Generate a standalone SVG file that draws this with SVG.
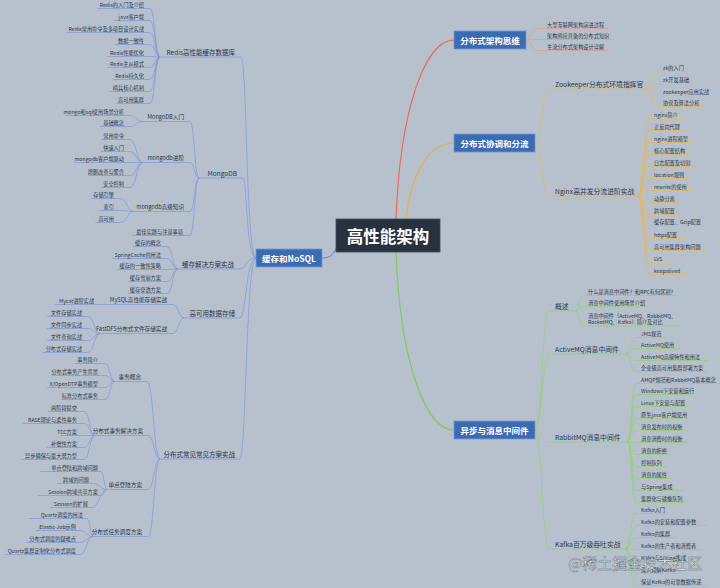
<svg xmlns="http://www.w3.org/2000/svg" width="720" height="588" viewBox="0 0 720 588">
<style>
text{font-family:"Noto Sans CJK SC","Noto Sans",sans-serif;dominant-baseline:central;fill:#2a3646}
.s{font-size:5.2px}
.t{font-size:5.6px}
.m{font-size:6.5px}
.r{font-size:6.8px}
.e{text-anchor:end}
.bt{font-size:8.5px;font-weight:bold;fill:#fff;text-anchor:middle}
.ct{font-size:16.5px;font-weight:bold;fill:#fff;text-anchor:middle}
.ub,.cb{stroke:#7f96dc;stroke-width:.7;fill:none}
.ur,.cr{stroke:#e59a98;stroke-width:.7;fill:none}
.uo,.co{stroke:#e6b757;stroke-width:.7;fill:none}
.ug,.cg{stroke:#96d070;stroke-width:.7;fill:none}
.box{fill:#3b6bb2;stroke:#7598d4;stroke-width:.8}
.wm{font-size:15px;fill:#fff;fill-opacity:.85;stroke:#4d5562;stroke-width:.5;stroke-opacity:.8}
</style>
<rect width="720" height="588" fill="#b6c1cd"/>

<g id="connectors">
<path d="M396,219C400,110 425,40 454,40" stroke="#ec6a55" stroke-width="1.2" fill="none"/>
<path d="M406,219C412,170 430,143 454,143" stroke="#e6b04a" stroke-width="1.2" fill="none"/>
<path d="M396,252C400,360 425,430 454,430" stroke="#86c85c" stroke-width="1.2" fill="none"/>
<path d="M337,247C333,255 330,258 322,258" stroke="#5f80d2" stroke-width="1" fill="none"/>
<g class="cb">
<path d="M256,258C246,258 247,57 241,57"/>
<path d="M256,258C246,258 247,178 243,178"/>
<path d="M256,258C246,258 246,269 240,269"/>
<path d="M256,258C246,258 246,318 240,318"/>
<path d="M256,258C246,258 246,459 240,459"/>
<path d="M150,8.5C155,8.5 155,57 160,57"/>
<path d="M150,20.5C155,20.5 155,57 160,57"/>
<path d="M150,32.5C155,32.5 155,57 160,57"/>
<path d="M150,44.5C155,44.5 155,57 160,57"/>
<path d="M150,56.5C155,56.5 155,57 160,57"/>
<path d="M150,67.5C155,67.5 155,57 160,57"/>
<path d="M150,79.5C155,79.5 155,57 160,57"/>
<path d="M150,91.5C155,91.5 155,57 160,57"/>
<path d="M150,103.5C155,103.5 155,57 160,57"/>
<path d="M190,121.5C194.5,121.5 194.5,178 199,178"/>
<path d="M190,162.5C194.5,162.5 194.5,178 199,178"/>
<path d="M190,211.5C194.5,211.5 194.5,178 199,178"/>
<path d="M190,235.5C194.5,235.5 194.5,178 199,178"/>
<path d="M130,115.5C136.5,115.5 136.5,121.5 143,121.5"/>
<path d="M130,126.5C136.5,126.5 136.5,121.5 143,121.5"/>
<path d="M130,139.5C136.5,139.5 136.5,162.5 143,162.5"/>
<path d="M130,151.5C136.5,151.5 136.5,162.5 143,162.5"/>
<path d="M130,162.5C136.5,162.5 136.5,162.5 143,162.5"/>
<path d="M130,175.5C136.5,175.5 136.5,162.5 143,162.5"/>
<path d="M130,187.5C136.5,187.5 136.5,162.5 143,162.5"/>
<path d="M120,198.5C127,198.5 127,211.5 134,211.5"/>
<path d="M120,210.5C127,210.5 127,211.5 134,211.5"/>
<path d="M120,222.5C127,222.5 127,211.5 134,211.5"/>
<path d="M167,246.5C172.5,246.5 172.5,269 178,269"/>
<path d="M167,258.5C172.5,258.5 172.5,269 178,269"/>
<path d="M167,269.5C172.5,269.5 172.5,269 178,269"/>
<path d="M167,281.5C172.5,281.5 172.5,269 178,269"/>
<path d="M167,293.5C172.5,293.5 172.5,269 178,269"/>
<path d="M173,304.5C178.5,304.5 178.5,318 184,318"/>
<path d="M173,333.5C178.5,333.5 178.5,318 184,318"/>
<path d="M88,316.5C94,316.5 94,333.5 100,333.5"/>
<path d="M88,328.5C94,328.5 94,333.5 100,333.5"/>
<path d="M88,340.5C94,340.5 94,333.5 100,333.5"/>
<path d="M88,352.5C94,352.5 94,333.5 100,333.5"/>
<path d="M147,381.5C153.5,381.5 153.5,459 160,459"/>
<path d="M148,435.5C154,435.5 154,459 160,459"/>
<path d="M148,489.5C154,489.5 154,459 160,459"/>
<path d="M148,536.5C154,536.5 154,459 160,459"/>
<path d="M105,363.5C110,363.5 110,381.5 115,381.5"/>
<path d="M105,375.5C110,375.5 110,381.5 115,381.5"/>
<path d="M105,387.5C110,387.5 110,381.5 115,381.5"/>
<path d="M105,399.5C110,399.5 110,381.5 115,381.5"/>
<path d="M84,411.5C89.5,411.5 89.5,435.5 95,435.5"/>
<path d="M84,423.5C89.5,423.5 89.5,435.5 95,435.5"/>
<path d="M84,435.5C89.5,435.5 89.5,435.5 95,435.5"/>
<path d="M84,447.5C89.5,447.5 89.5,435.5 95,435.5"/>
<path d="M84,459.5C89.5,459.5 89.5,435.5 95,435.5"/>
<path d="M101,471.5C104,471.5 104,489.5 107,489.5"/>
<path d="M93,483.5C100,483.5 100,489.5 107,489.5"/>
<path d="M101,495.5C104,495.5 104,489.5 107,489.5"/>
<path d="M92,507.5C99.5,507.5 99.5,489.5 107,489.5"/>
<path d="M87,518.5C90,518.5 90,536.5 93,536.5"/>
<path d="M80,530.5C86.5,530.5 86.5,536.5 93,536.5"/>
<path d="M80,542.5C86.5,542.5 86.5,536.5 93,536.5"/>
<path d="M80,554.5C86.5,554.5 86.5,536.5 93,536.5"/>
</g>
<g class="cr">
<path d="M526,40C531.5,40 531.5,28.5 537,28.5"/>
<path d="M526,40C531.5,40 531.5,39.5 537,39.5"/>
<path d="M526,40C531.5,40 531.5,50.5 537,50.5"/>
</g>
<g class="co">
<path d="M535,143C542,143 542,89 549,89"/>
<path d="M535,143C542,143 542,196 549,196"/>
<path d="M644,89C651,89 651,71.5 658,71.5"/>
<path d="M644,89C651,89 651,83.5 658,83.5"/>
<path d="M644,89C651,89 651,95.5 658,95.5"/>
<path d="M644,89C651,89 651,106.5 658,106.5"/>
<path d="M638,196C643.5,196 643.5,118.5 649,118.5"/>
<path d="M638,196C643.5,196 643.5,130.5 649,130.5"/>
<path d="M638,196C643.5,196 643.5,142.5 649,142.5"/>
<path d="M638,196C643.5,196 643.5,154.5 649,154.5"/>
<path d="M638,196C643.5,196 643.5,166.5 649,166.5"/>
<path d="M638,196C643.5,196 643.5,178.5 649,178.5"/>
<path d="M638,196C643.5,196 643.5,190.5 649,190.5"/>
<path d="M638,196C643.5,196 643.5,202.5 649,202.5"/>
<path d="M638,196C643.5,196 643.5,214.5 649,214.5"/>
<path d="M638,196C643.5,196 643.5,225.5 649,225.5"/>
<path d="M638,196C643.5,196 643.5,238.5 649,238.5"/>
<path d="M638,196C643.5,196 643.5,250.5 649,250.5"/>
<path d="M638,196C643.5,196 643.5,262.5 649,262.5"/>
<path d="M638,196C643.5,196 643.5,274.5 649,274.5"/>
</g>
<g class="cg">
<path d="M535,430C542,430 542,311 549,311"/>
<path d="M535,430C542,430 542,354 549,354"/>
<path d="M535,430C542,430 542,442 549,442"/>
<path d="M535,430C542,430 542,549 549,549"/>
<path d="M576,311C579.5,311 579.5,295.5 583,295.5"/>
<path d="M576,311C579.5,311 579.5,306.5 583,306.5"/>
<path d="M576,311C579.5,311 579.5,326 583,326"/>
<path d="M625,354C630.5,354 630.5,337.5 636,337.5"/>
<path d="M625,354C630.5,354 630.5,348.5 636,348.5"/>
<path d="M625,354C630.5,354 630.5,360.5 636,360.5"/>
<path d="M625,354C630.5,354 630.5,371.5 636,371.5"/>
<path d="M627,442C631.5,442 631.5,383.5 636,383.5"/>
<path d="M627,442C631.5,442 631.5,394.5 636,394.5"/>
<path d="M627,442C631.5,442 631.5,406.5 636,406.5"/>
<path d="M627,442C631.5,442 631.5,418.5 636,418.5"/>
<path d="M627,442C631.5,442 631.5,430.5 636,430.5"/>
<path d="M627,442C631.5,442 631.5,442.5 636,442.5"/>
<path d="M627,442C631.5,442 631.5,454.5 636,454.5"/>
<path d="M627,442C631.5,442 631.5,466.5 636,466.5"/>
<path d="M627,442C631.5,442 631.5,478.5 636,478.5"/>
<path d="M627,442C631.5,442 631.5,490.5 636,490.5"/>
<path d="M627,442C631.5,442 631.5,502.5 636,502.5"/>
<path d="M625,549C630.5,549 630.5,513.5 636,513.5"/>
<path d="M625,549C630.5,549 630.5,525.5 636,525.5"/>
<path d="M625,549C630.5,549 630.5,537.5 636,537.5"/>
<path d="M625,549C630.5,549 630.5,549.5 636,549.5"/>
<path d="M625,549C630.5,549 630.5,561.5 636,561.5"/>
<path d="M625,549C630.5,549 630.5,573.5 636,573.5"/>
<path d="M625,549C630.5,549 630.5,585.5 636,585.5"/>
</g>
</g>

<g id="root"><rect x="336" y="219" width="104" height="33" fill="#28323e" stroke="#3c4858" stroke-width=".8"/><text class="ct" x="388" y="235.5">高性能架构</text></g>

<!-- LEFT -->
<g id="cache-nosql"><rect class="box" x="256" y="249" width="66" height="18"/><text class="bt" x="289" y="258">缓存和NoSQL</text></g>

<g id="redis"><path class="ub" d="M160,57H241"/><text class="m e" x="235" y="52">Redis高性能缓存数据库</text></g>
<g id="r1"><path class="ub" d="M97,8.5H150"/><text class="s e" x="144" y="4">Redis的入门及介绍</text></g>
<g id="r2"><path class="ub" d="M114,20.5H150"/><text class="s e" x="144" y="16">java客户端</text></g>
<g id="r3"><path class="ub" d="M67,32.5H150"/><text class="s e" x="144" y="28">Redis常用命令及多项目设计实战</text></g>
<g id="r4"><path class="ub" d="M115,44.5H150"/><text class="s e" x="144" y="40">数据一致性</text></g>
<g id="r5"><path class="ub" d="M107,56.5H150"/><text class="s e" x="144" y="52">Redis性能优化</text></g>
<g id="r6"><path class="ub" d="M107,67.5H150"/><text class="s e" x="144" y="63">Redis主从模式</text></g>
<g id="r7"><path class="ub" d="M113,79.5H150"/><text class="s e" x="144" y="75">Redis持久化</text></g>
<g id="r8"><path class="ub" d="M110,91.5H150"/><text class="s e" x="144" y="87">哨兵核心机制</text></g>
<g id="r9"><path class="ub" d="M116,103.5H150"/><text class="s e" x="144" y="99">高可用集群</text></g>

<g id="mongodb"><path class="ub" d="M199,178H243"/><text class="m e" x="237" y="173">MongoDB</text></g>
<g id="mg1"><path class="ub" d="M143,121.5H190"/><text class="t e" x="184" y="117">MongoDB入门</text></g>
<g id="mg1a"><path class="ub" d="M65,115.5H130"/><text class="s e" x="124" y="111">mongo和sql使用场景分析</text></g>
<g id="mg1b"><path class="ub" d="M100,126.5H130"/><text class="s e" x="124" y="122">基础概念</text></g>
<g id="mg2"><path class="ub" d="M143,162.5H190"/><text class="t e" x="184" y="158">mongodb进阶</text></g>
<g id="mg2a"><path class="ub" d="M101,139.5H130"/><text class="s e" x="124" y="135">常用命令</text></g>
<g id="mg2b"><path class="ub" d="M101,151.5H130"/><text class="s e" x="124" y="147">快速入门</text></g>
<g id="mg2c"><path class="ub" d="M74,162.5H130"/><text class="s e" x="124" y="158">mongodb客户端驱动</text></g>
<g id="mg2d"><path class="ub" d="M88,175.5H130"/><text class="s e" x="124" y="171">增删改查与聚合</text></g>
<g id="mg2e"><path class="ub" d="M101,187.5H130"/><text class="s e" x="124" y="183">安全控制</text></g>
<g id="mg3"><path class="ub" d="M134,211.5H190"/><text class="t e" x="184" y="207">mongodb高级知识</text></g>
<g id="mg3a"><path class="ub" d="M91,198.5H120"/><text class="s e" x="114" y="194">存储引擎</text></g>
<g id="mg3b"><path class="ub" d="M100,210.5H120"/><text class="s e" x="114" y="206">索引</text></g>
<g id="mg3c"><path class="ub" d="M95,222.5H120"/><text class="s e" x="114" y="218">高可用</text></g>
<g id="mg4"><path class="ub" d="M132,235.5H190"/><text class="s e" x="183" y="231">最佳实践与注意事项</text></g>

<g id="cache"><path class="ub" d="M178,269H240"/><text class="m e" x="234" y="264">缓存解决方案实战</text></g>
<g id="c1"><path class="ub" d="M133,246.5H167"/><text class="s e" x="161" y="242">缓存的概念</text></g>
<g id="c2"><path class="ub" d="M112,258.5H167"/><text class="s e" x="161" y="254">SpringCache的用法</text></g>
<g id="c3"><path class="ub" d="M117,269.5H167"/><text class="s e" x="161" y="265">缓存的一致性策略</text></g>
<g id="c4"><path class="ub" d="M128,281.5H167"/><text class="s e" x="161" y="277">缓存雪崩方案</text></g>
<g id="c5"><path class="ub" d="M128,293.5H167"/><text class="s e" x="161" y="289">缓存穿透方案</text></g>

<g id="ha"><path class="ub" d="M184,318H240"/><text class="m e" x="235" y="313">高可用数据存储</text></g>
<g id="mysql"><path class="ub" d="M113,304.5H173"/><text class="t e" x="167" y="300">MySQL高性能存储实战</text></g>
<g id="mycat"><path class="ub" d="M54,304.5H113"/><text class="s e" x="94" y="300">Mycat进阶实战</text></g>
<g id="fastdfs"><path class="ub" d="M100,333.5H173"/><text class="t e" x="167" y="329">FastDFS分布式文件存储实战</text></g>
<g id="f1"><path class="ub" d="M47,316.5H88"/><text class="s e" x="82" y="312">文件存储实战</text></g>
<g id="f2"><path class="ub" d="M47,328.5H88"/><text class="s e" x="82" y="324">文件同步实战</text></g>
<g id="f3"><path class="ub" d="M47,340.5H88"/><text class="s e" x="82" y="336">文件查询实战</text></g>
<g id="f4"><path class="ub" d="M42,352.5H88"/><text class="s e" x="82" y="348">分布式存储实战</text></g>

<g id="dist"><path class="ub" d="M160,459H240"/><text class="m e" x="235" y="454">分布式常见常见方案实战</text></g>
<g id="tx"><path class="ub" d="M115,381.5H147"/><text class="t e" x="141" y="377">事务概念</text></g>
<g id="tx1"><path class="ub" d="M75,363.5H105"/><text class="s e" x="98" y="359">事务简介</text></g>
<g id="tx2"><path class="ub" d="M52,375.5H105"/><text class="s e" x="98" y="371">分布式事务产生背景</text></g>
<g id="tx3"><path class="ub" d="M47,387.5H105"/><text class="s e" x="98" y="383">X/OpenDTP事务模型</text></g>
<g id="tx4"><path class="ub" d="M61,399.5H105"/><text class="s e" x="98" y="395">标准分布式事务</text></g>
<g id="dtx"><path class="ub" d="M95,435.5H148"/><text class="t e" x="143" y="431">分布式事务解决方案</text></g>
<g id="dtx1"><path class="ub" d="M48,411.5H84"/><text class="s e" x="77" y="407">两阶段提交</text></g>
<g id="dtx2"><path class="ub" d="M23,423.5H84"/><text class="s e" x="77" y="419">BASE理论与柔性事务</text></g>
<g id="dtx3"><path class="ub" d="M60,435.5H84"/><text class="s e" x="77" y="431">TCC方案</text></g>
<g id="dtx4"><path class="ub" d="M47,447.5H84"/><text class="s e" x="77" y="443">补偿性方案</text></g>
<g id="dtx5"><path class="ub" d="M22,459.5H84"/><text class="s e" x="77" y="455">异步确保与最大努力型</text></g>
<g id="sso"><path class="ub" d="M107,489.5H148"/><text class="t e" x="142" y="485">单点登陆方案</text></g>
<g id="sso1"><path class="ub" d="M40,471.5H101"/><text class="s e" x="98" y="467">单点登陆和跨域问题</text></g>
<g id="sso2"><path class="ub" d="M57,483.5H93"/><text class="s e" x="89" y="479">跨域的问题</text></g>
<g id="sso3"><path class="ub" d="M38,495.5H101"/><text class="s e" x="98" y="491">Session跨域共享方案</text></g>
<g id="sso4"><path class="ub" d="M50,507.5H92"/><text class="s e" x="88" y="503">Session的扩展</text></g>
<g id="job"><path class="ub" d="M93,536.5H148"/><text class="t e" x="142" y="532">分布式任务调度方案</text></g>
<g id="job1"><path class="ub" d="M29,518.5H87"/><text class="s e" x="83" y="514">Quartz调度的用法</text></g>
<g id="job2"><path class="ub" d="M36,530.5H80"/><text class="s e" x="76" y="526">Elastic-Job示例</text></g>
<g id="job3"><path class="ub" d="M26,542.5H80"/><text class="s e" x="76" y="538">分布式调度的疑难点</text></g>
<g id="job4"><path class="ub" d="M5,554.5H80"/><text class="s e" x="76" y="550">Quartz集群定制化分布式调度</text></g>

<!-- RIGHT -->
<g id="arch"><rect class="box" x="454" y="31" width="72" height="18"/><text class="bt" x="490" y="40">分布式架构思维</text></g>
<g id="a1"><path class="ur" d="M537,28.5H609"/><text class="s" x="547" y="24">大型互联网架构演进过程</text></g>
<g id="a2"><path class="ur" d="M537,39.5H614"/><text class="s" x="547" y="35">架构师应具备的分布式知识</text></g>
<g id="a3"><path class="ur" d="M537,50.5H609"/><text class="s" x="547" y="46">主流分布式架构设计详解</text></g>

<g id="coord"><rect class="box" x="454" y="134" width="81" height="18"/><text class="bt" x="494.5" y="143">分布式协调和分流</text></g>
<g id="zk"><path class="uo" d="M549,89H644"/><text class="r" x="555" y="84">Zookeeper分布式环境指挥官</text></g>
<g id="zk1"><path class="uo" d="M658,71.5H689"/><text class="s" x="663" y="67">zk的入门</text></g>
<g id="zk2"><path class="uo" d="M658,83.5H694"/><text class="s" x="663" y="79">zk开发基础</text></g>
<g id="zk3"><path class="uo" d="M658,95.5H715"/><text class="s" x="663" y="91">zookeeper应用实战</text></g>
<g id="zk4"><path class="uo" d="M658,106.5H704"/><text class="s" x="663" y="102">协议及算法分析</text></g>
<g id="nginx"><path class="uo" d="M549,196H638"/><text class="r" x="555" y="191">Nginx高并发分流进阶实战</text></g>
<g id="ng1"><path class="uo" d="M649,118.5H684"/><text class="s" x="654" y="114">nginx简介</text></g>
<g id="ng2"><path class="uo" d="M649,130.5H685"/><text class="s" x="654" y="126">正反向代理</text></g>
<g id="ng3"><path class="uo" d="M649,142.5H694"/><text class="s" x="654" y="138">nginx进程模型</text></g>
<g id="ng4"><path class="uo" d="M649,154.5H690"/><text class="s" x="654" y="150">核心配置结构</text></g>
<g id="ng5"><path class="uo" d="M649,166.5H695"/><text class="s" x="654" y="162">日志配置及切割</text></g>
<g id="ng6"><path class="uo" d="M649,178.5H690"/><text class="s" x="654" y="174">location规则</text></g>
<g id="ng7"><path class="uo" d="M649,190.5H694"/><text class="s" x="654" y="186">rewrite的使用</text></g>
<g id="ng8"><path class="uo" d="M649,202.5H680"/><text class="s" x="654" y="198">动静分离</text></g>
<g id="ng9"><path class="uo" d="M649,214.5H680"/><text class="s" x="654" y="210">跨域配置</text></g>
<g id="ng10"><path class="uo" d="M649,225.5H706"/><text class="s" x="654" y="221">缓存配置、Gzip配置</text></g>
<g id="ng11"><path class="uo" d="M649,238.5H683"/><text class="s" x="654" y="234">https配置</text></g>
<g id="ng12"><path class="uo" d="M649,250.5H705"/><text class="s" x="654" y="246">高可用集群架构问题</text></g>
<g id="ng13"><path class="uo" d="M649,262.5H669"/><text class="s" x="654" y="258">LVS</text></g>
<g id="ng14"><path class="uo" d="M649,274.5H687"/><text class="s" x="654" y="270">keepalived</text></g>

<g id="async"><rect class="box" x="454" y="421" width="81" height="18"/><text class="bt" x="494.5" y="430">异步与消息中间件</text></g>
<g id="ov"><path class="ug" d="M549,311H576"/><text class="r" x="555" y="306">概述</text></g>
<g id="ov1"><path class="ug" d="M583,295.5H678"/><text class="s" x="588" y="291">什么是消息中间件？和RPC有何区别？</text></g>
<g id="ov2"><path class="ug" d="M583,306.5H647"/><text class="s" x="588" y="302">消息中间件使用场景介绍</text></g>
<g id="ov3"><path class="ug" d="M583,326H680"/><text class="s" x="588" y="315">消息中间件（ActiveMQ、RabbitMQ、</text><text class="s" x="588" y="321.5">RocketMQ、Kafka）简介及对比</text></g>
<g id="amq"><path class="ug" d="M549,354H625"/><text class="r" x="555" y="349">ActiveMQ消息中间件</text></g>
<g id="amq1"><path class="ug" d="M636,337.5H667"/><text class="s" x="641" y="333">JMS规范</text></g>
<g id="amq2"><path class="ug" d="M636,348.5H682"/><text class="s" x="641" y="344">ActiveMQ使用</text></g>
<g id="amq3"><path class="ug" d="M636,360.5H708"/><text class="s" x="641" y="356">ActiveMQ高级特性和用法</text></g>
<g id="amq4"><path class="ug" d="M636,371.5H708"/><text class="s" x="641" y="367">企业级高可用集群部署方案</text></g>
<g id="rmq"><path class="ug" d="M549,442H627"/><text class="r" x="555" y="437">RabbitMQ消息中间件</text></g>
<g id="rmq1"><path class="ug" d="M636,383.5H720"/><text class="s" x="641" y="379">AMQP规范和RabbitMQ基本概念</text></g>
<g id="rmq2"><path class="ug" d="M636,394.5H693"/><text class="s" x="641" y="390">Windows下安装和运行</text></g>
<g id="rmq3"><path class="ug" d="M636,406.5H690"/><text class="s" x="641" y="402">Linux下安装与配置</text></g>
<g id="rmq4"><path class="ug" d="M636,418.5H688"/><text class="s" x="641" y="414">原生java客户端使用</text></g>
<g id="rmq5"><path class="ug" d="M636,430.5H688"/><text class="s" x="641" y="426">消息发布时的权衡</text></g>
<g id="rmq6"><path class="ug" d="M636,442.5H688"/><text class="s" x="641" y="438">消息消费时的权衡</text></g>
<g id="rmq7"><path class="ug" d="M636,454.5H672"/><text class="s" x="641" y="450">消息的拒绝</text></g>
<g id="rmq8"><path class="ug" d="M636,466.5H667"/><text class="s" x="641" y="462">控制队列</text></g>
<g id="rmq9"><path class="ug" d="M636,478.5H672"/><text class="s" x="641" y="474">消息的属性</text></g>
<g id="rmq10"><path class="ug" d="M636,490.5H684"/><text class="s" x="641" y="486">与Spring集成</text></g>
<g id="rmq11"><path class="ug" d="M636,502.5H688"/><text class="s" x="641" y="498">集群化与镜像队列</text></g>
<g id="kafka"><path class="ug" d="M549,549H625"/><text class="r" x="555" y="544">Kafka百万级吞吐实战</text></g>
<g id="k1"><path class="ug" d="M636,513.5H670"/><text class="s" x="641" y="509">Kafka入门</text></g>
<g id="k2"><path class="ug" d="M636,525.5H707"/><text class="s" x="641" y="521">Kafka的安装和配置参数</text></g>
<g id="k3"><path class="ug" d="M636,537.5H676"/><text class="s" x="641" y="533">Kafka的集群</text></g>
<g id="k4"><path class="ug" d="M636,549.5H702"/><text class="s" x="641" y="545">Kafka的生产者和消费者</text></g>
<g id="k5"><path class="ug" d="M636,561.5H693"/><text class="s" x="641" y="557">Kafka与Spring集成</text></g>
<g id="k6"><path class="ug" d="M636,573.5H681"/><text class="s" x="641" y="569">深入理解Kafka</text></g>
<g id="k7"><path class="ug" d="M636,585.5H707"/><text class="s" x="641" y="581">保证Kafka的可靠数据传递</text></g>

<text class="wm" x="568" y="562">@稀土掘金技术社区</text>
</svg>
